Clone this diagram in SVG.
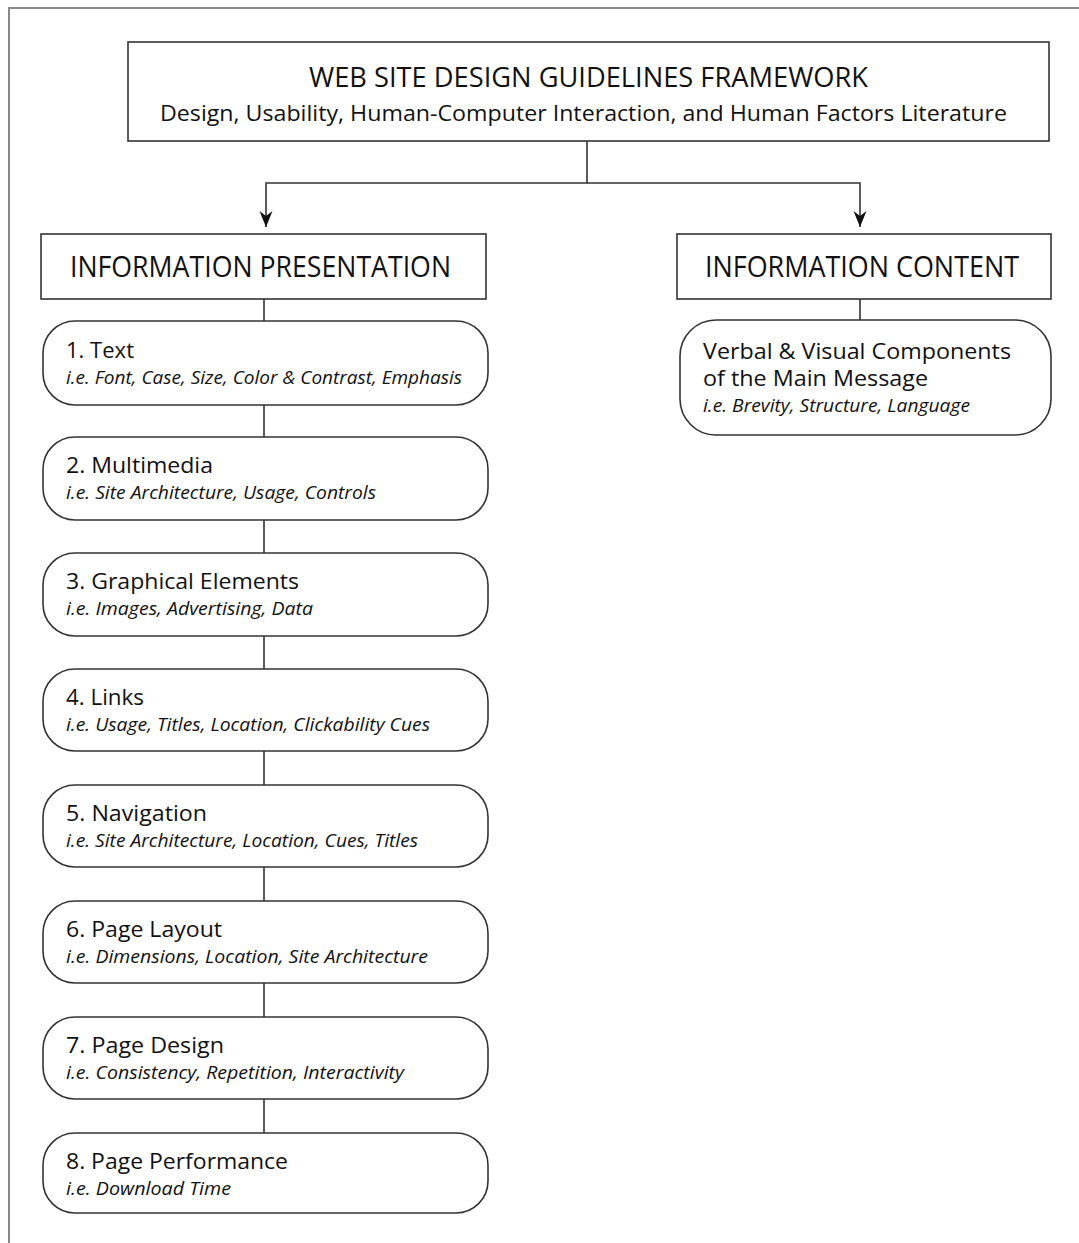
<svg xmlns="http://www.w3.org/2000/svg" width="1079" height="1243" viewBox="0 0 1079 1243">
  <style>
    .frame { fill: none; stroke: #8a8a8a; stroke-width: 2; }
    .box { fill: #ffffff; stroke: #333333; stroke-width: 1.6; }
    .link { fill: none; stroke: #333333; stroke-width: 1.6; }
    text { font-family: "Open Sans", "Noto Sans", sans-serif; fill: #111111; }
    .h1 { font-size: 27px; font-weight: 500; }
    .h2 { font-size: 22px; }
    .hd { font-size: 30px; font-weight: 500; }
    .t { font-size: 22px; }
    .s { font-size: 18px; font-style: italic; }
  </style>
  <defs>
    <marker id="arrow" viewBox="0 0 16 14" refX="16" refY="7" markerWidth="16" markerHeight="14" markerUnits="userSpaceOnUse" orient="auto">
      <path d="M0,0.5 L16,7 L0,13.5 L5,7 Z" fill="#111111"/>
    </marker>
  </defs>
  <rect width="1079" height="1243" fill="#ffffff"/>
  <path class="frame" d="M9,1243 V8 H1079"/>

  <g id="connectors">
    <path class="link" d="M587,141 V183 H266 V227" marker-end="url(#arrow)"/>
    <path class="link" d="M587,183 H860 V227" marker-end="url(#arrow)"/>
    <path class="link" d="M264,299 V321"/>
    <path class="link" d="M264,405 V437"/>
    <path class="link" d="M264,520 V553"/>
    <path class="link" d="M264,636 V669"/>
    <path class="link" d="M264,751 V785"/>
    <path class="link" d="M264,867 V901"/>
    <path class="link" d="M264,983 V1017"/>
    <path class="link" d="M264,1099 V1133"/>
    <path class="link" d="M860,299 V320"/>
  </g>

  <g id="framework">
    <rect class="box" x="128" y="42" width="921" height="99"/>
    <text class="h1" x="309" y="87" textLength="559" lengthAdjust="spacingAndGlyphs">WEB SITE DESIGN GUIDELINES FRAMEWORK</text>
    <text class="h2" x="160" y="121" textLength="847" lengthAdjust="spacingAndGlyphs">Design, Usability, Human-Computer Interaction, and Human Factors Literature</text>
  </g>

  <g id="presentation">
    <rect class="box" x="41" y="234" width="445" height="65"/>
    <text class="hd" x="70" y="277" textLength="381" lengthAdjust="spacingAndGlyphs">INFORMATION PRESENTATION</text>
  </g>

  <g id="content">
    <rect class="box" x="677" y="234" width="374" height="65"/>
    <text class="hd" x="705" y="277" textLength="314" lengthAdjust="spacingAndGlyphs">INFORMATION CONTENT</text>
  </g>

  <g id="text">
    <rect class="box" x="43" y="321" width="445" height="84" rx="32" ry="32"/>
    <text class="t" x="66" y="358" textLength="68" lengthAdjust="spacingAndGlyphs">1. Text</text>
    <text class="s" x="66" y="384" textLength="396" lengthAdjust="spacingAndGlyphs">i.e. Font, Case, Size, Color &amp; Contrast, Emphasis</text>
  </g>

  <g id="multimedia">
    <rect class="box" x="43" y="437" width="445" height="83" rx="32" ry="32"/>
    <text class="t" x="66" y="473" textLength="147" lengthAdjust="spacingAndGlyphs">2. Multimedia</text>
    <text class="s" x="66" y="499" textLength="310" lengthAdjust="spacingAndGlyphs">i.e. Site Architecture, Usage, Controls</text>
  </g>

  <g id="graphical">
    <rect class="box" x="43" y="553" width="445" height="83" rx="32" ry="32"/>
    <text class="t" x="66" y="589" textLength="233" lengthAdjust="spacingAndGlyphs">3. Graphical Elements</text>
    <text class="s" x="66" y="615" textLength="247" lengthAdjust="spacingAndGlyphs">i.e. Images, Advertising, Data</text>
  </g>

  <g id="links">
    <rect class="box" x="43" y="669" width="445" height="82" rx="32" ry="32"/>
    <text class="t" x="66" y="705" textLength="78" lengthAdjust="spacingAndGlyphs">4. Links</text>
    <text class="s" x="66" y="731" textLength="364" lengthAdjust="spacingAndGlyphs">i.e. Usage, Titles, Location, Clickability Cues</text>
  </g>

  <g id="navigation">
    <rect class="box" x="43" y="785" width="445" height="82" rx="32" ry="32"/>
    <text class="t" x="66" y="821" textLength="141" lengthAdjust="spacingAndGlyphs">5. Navigation</text>
    <text class="s" x="66" y="847" textLength="352" lengthAdjust="spacingAndGlyphs">i.e. Site Architecture, Location, Cues, Titles</text>
  </g>

  <g id="layout">
    <rect class="box" x="43" y="901" width="445" height="82" rx="32" ry="32"/>
    <text class="t" x="66" y="937" textLength="156" lengthAdjust="spacingAndGlyphs">6. Page Layout</text>
    <text class="s" x="66" y="963" textLength="362" lengthAdjust="spacingAndGlyphs">i.e. Dimensions, Location, Site Architecture</text>
  </g>

  <g id="design">
    <rect class="box" x="43" y="1017" width="445" height="82" rx="32" ry="32"/>
    <text class="t" x="66" y="1053" textLength="158" lengthAdjust="spacingAndGlyphs">7. Page Design</text>
    <text class="s" x="66" y="1079" textLength="338" lengthAdjust="spacingAndGlyphs">i.e. Consistency, Repetition, Interactivity</text>
  </g>

  <g id="performance">
    <rect class="box" x="43" y="1133" width="445" height="80" rx="32" ry="32"/>
    <text class="t" x="66" y="1169" textLength="222" lengthAdjust="spacingAndGlyphs">8. Page Performance</text>
    <text class="s" x="66" y="1195" textLength="165" lengthAdjust="spacingAndGlyphs">i.e. Download Time</text>
  </g>

  <g id="message">
    <rect class="box" x="680" y="320" width="371" height="115" rx="36" ry="36"/>
    <text class="t" x="703" y="359" textLength="308" lengthAdjust="spacingAndGlyphs">Verbal &amp; Visual Components</text>
    <text class="t" x="703" y="386" textLength="225" lengthAdjust="spacingAndGlyphs">of the Main Message</text>
    <text class="s" x="703" y="412" textLength="267" lengthAdjust="spacingAndGlyphs">i.e. Brevity, Structure, Language</text>
  </g>
</svg>
